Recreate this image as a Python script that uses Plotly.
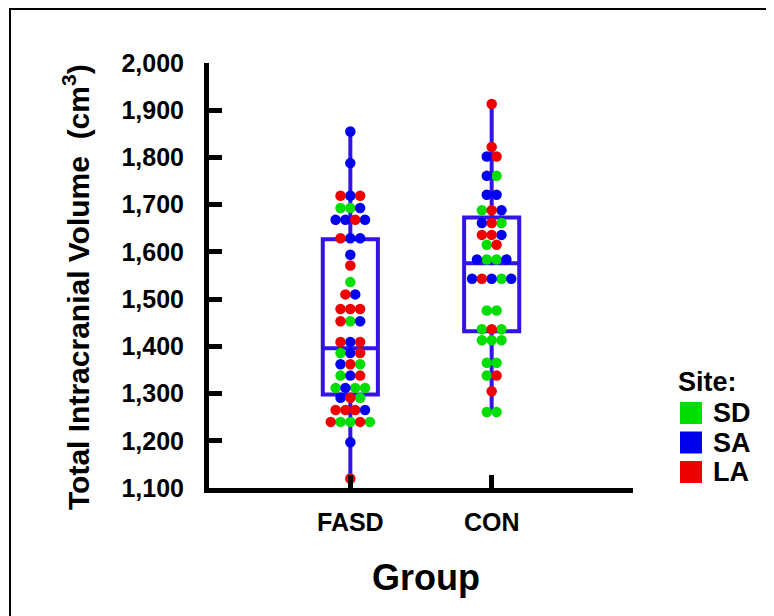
import plotly.graph_objects as go

# ---------------- data ----------------
groups = ["FASD", "CON"]
group_pos = [0, 1]
site_names = ["SD", "SA", "LA"]
site_colors = ["#00dd00", "#0000ee", "#ee0000"]

# values listed row by row (top to bottom), points within a row left to right
fasd_values = [1855, 1788,
               1719, 1719, 1719,
               1693, 1693, 1693,
               1668, 1668, 1668, 1668,
               1629, 1629, 1629,
               1594, 1571, 1536,
               1510, 1510,
               1479, 1479, 1479,
               1453, 1453, 1453,
               1409, 1409, 1409,
               1386, 1386, 1386,
               1362, 1362, 1362,
               1338, 1338, 1338,
               1312, 1312, 1312, 1312,
               1291, 1291, 1291,
               1265, 1265, 1265, 1265,
               1240, 1240, 1240, 1240, 1240,
               1197, 1120]
fasd_sites = ["SA", "SA",
              "LA", "SA", "LA",
              "SD", "SD", "SA",
              "SA", "SA", "LA", "SA",
              "LA", "SA", "SA",
              "SA", "LA", "SD",
              "LA", "SA",
              "LA", "LA", "LA",
              "LA", "SD", "SA",
              "LA", "SA", "LA",
              "SD", "SA", "LA",
              "SA", "LA", "SD",
              "SD", "SA", "LA",
              "SD", "SA", "SD", "SD",
              "SA", "LA", "SD",
              "LA", "LA", "LA", "SA",
              "LA", "SD", "SD", "LA", "SD",
              "SA", "LA"]

con_values = [1913, 1822,
              1802, 1802,
              1761, 1761,
              1721, 1721,
              1688, 1688, 1688,
              1661, 1661, 1661,
              1636, 1636, 1636,
              1615, 1615,
              1584, 1584, 1584, 1584,
              1543, 1543, 1543, 1543, 1543,
              1476, 1476,
              1436, 1436, 1436,
              1413, 1413, 1413,
              1365, 1365,
              1338, 1338,
              1305,
              1261, 1261]
con_sites = ["LA", "LA",
             "SA", "LA",
             "SA", "SD",
             "SA", "SA",
             "SD", "LA", "SA",
             "SA", "LA", "SD",
             "LA", "LA", "SA",
             "SD", "LA",
             "SA", "SD", "SD", "SA",
             "SA", "LA", "SA", "SD", "SA",
             "SD", "SD",
             "SD", "LA", "SD",
             "SD", "SD", "SD",
             "SD", "SD",
             "SD", "LA",
             "LA",
             "SD", "SD"]

# box statistics (as drawn)
box_q1 = [1298, 1432]
box_median = [1396, 1576]
box_q3 = [1627, 1673]
box_low = [1120, 1261]
box_high = [1855, 1913]

y_ticks = list(range(1100, 2001, 100))

# ---------------- layout helpers ----------------
OFF = 8                      # page body margin
WIN_W, WIN_H = 774, 616
W, H = WIN_W - OFF, WIN_H - OFF
ML = 209 - OFF
MT = 63 - OFF
MR = W - (633 - OFF)
MB = H - (488 - OFF)
PW, PH = W - ML - MR, H - MT - MB
BOX_COLOR = "rgb(50,20,230)"
FONT = "Liberation Sans, Arial, sans-serif"


def px_x(p):
    """window pixel x -> paper coordinate"""
    return (p - OFF - ML) / PW


def px_y(p):
    """window pixel y -> paper coordinate"""
    return (H - MB - (p - OFF)) / PH


def swarm(values, center, step):
    xs = []
    i, n = 0, len(values)
    while i < n:
        j = i
        while j < n and values[j] == values[i]:
            j += 1
        k = j - i
        for m in range(k):
            xs.append(center + (m - (k - 1) / 2) * step)
        i = j
    return xs


fig = go.Figure()

# boxes
for gi, g in enumerate(groups):
    fig.add_trace(go.Box(
        x=[group_pos[gi]], q1=[box_q1[gi]], median=[box_median[gi]], q3=[box_q3[gi]],
        lowerfence=[box_low[gi]], upperfence=[box_high[gi]],
        width=0.39, whiskerwidth=0, boxpoints=False,
        line=dict(color=BOX_COLOR, width=4), fillcolor="rgba(0,0,0,0)",
        showlegend=False, hoverinfo="skip"))

# dots
step = 9.8 / (PW / 3.0)
all_x, all_y, all_s = [], [], []
for gi, (vals, sts) in enumerate([(fasd_values, fasd_sites), (con_values, con_sites)]):
    xs = swarm(vals, group_pos[gi], step)
    all_x += xs
    all_y += vals
    all_s += sts

for si, s in enumerate(site_names):
    xx = [x for x, ss in zip(all_x, all_s) if ss == s]
    yy = [y for y, ss in zip(all_y, all_s) if ss == s]
    fig.add_trace(go.Scatter(
        x=xx, y=yy, mode="markers", name=s,
        marker=dict(size=10.5, color=site_colors[si], line=dict(width=0)),
        showlegend=False))

fig.update_layout(
    width=W, height=H,
    margin=dict(l=ML, r=MR, t=MT, b=MB),
    paper_bgcolor="white", plot_bgcolor="white",
    font=dict(family=FONT, color="black"),
    showlegend=False,
    xaxis=dict(range=[-1, 2], showgrid=False, zeroline=False,
               showline=True, linecolor="black", linewidth=5,
               ticks="inside", ticklen=13, tickwidth=5, tickcolor="black",
               tickvals=[0, 1, 2], ticktext=groups + [" "],
               tickfont=dict(size=25, family=FONT, weight="bold"),
               ticklabelstandoff=8),
    yaxis=dict(range=[1100, 2000], showgrid=False, zeroline=False,
               showline=True, linecolor="black", linewidth=5,
               ticks="inside", ticklen=13, tickwidth=5, tickcolor="black",
               tickvals=y_ticks, tickformat=",",
               tickfont=dict(size=25, family=FONT, weight="bold"),
               ticklabelstandoff=15),
)

annotations = [
    dict(text="Total Intracranial Volume  (cm<sup>3</sup>)", textangle=-90,
         xref="paper", yref="paper", x=px_x(76), y=px_y(287),
         xanchor="center", yanchor="middle", showarrow=False,
         font=dict(size=30, family=FONT, weight="bold")),
    dict(text="Group", xref="paper", yref="paper", x=px_x(426), y=px_y(577),
         xanchor="center", yanchor="middle", showarrow=False,
         font=dict(size=36, family=FONT, weight="bold")),
    dict(text="Site:", xref="paper", yref="paper", x=px_x(676), y=px_y(382),
         xanchor="left", yanchor="middle", showarrow=False,
         font=dict(size=27, family=FONT, weight="bold")),
]
shapes = [
    dict(type="rect", xref="paper", yref="paper",
         x0=px_x(10), x1=px_x(820), y0=px_y(9), y1=px_y(700),
         line=dict(color="black", width=2), fillcolor="rgba(0,0,0,0)", layer="below"),
]
for si, s in enumerate(site_names):
    top = 402 + si * 29.5
    shapes.append(dict(type="rect", xref="paper", yref="paper",
                       x0=px_x(680), x1=px_x(702), y0=px_y(top), y1=px_y(top + 22),
                       line=dict(width=0), fillcolor=site_colors[si]))
    annotations.append(dict(text=s, xref="paper", yref="paper",
                            x=px_x(711), y=px_y(top + 11),
                            xanchor="left", yanchor="middle", showarrow=False,
                            font=dict(size=27, family=FONT, weight="bold")))

fig.update_layout(annotations=annotations, shapes=shapes)

fig.write_html("out.html")
